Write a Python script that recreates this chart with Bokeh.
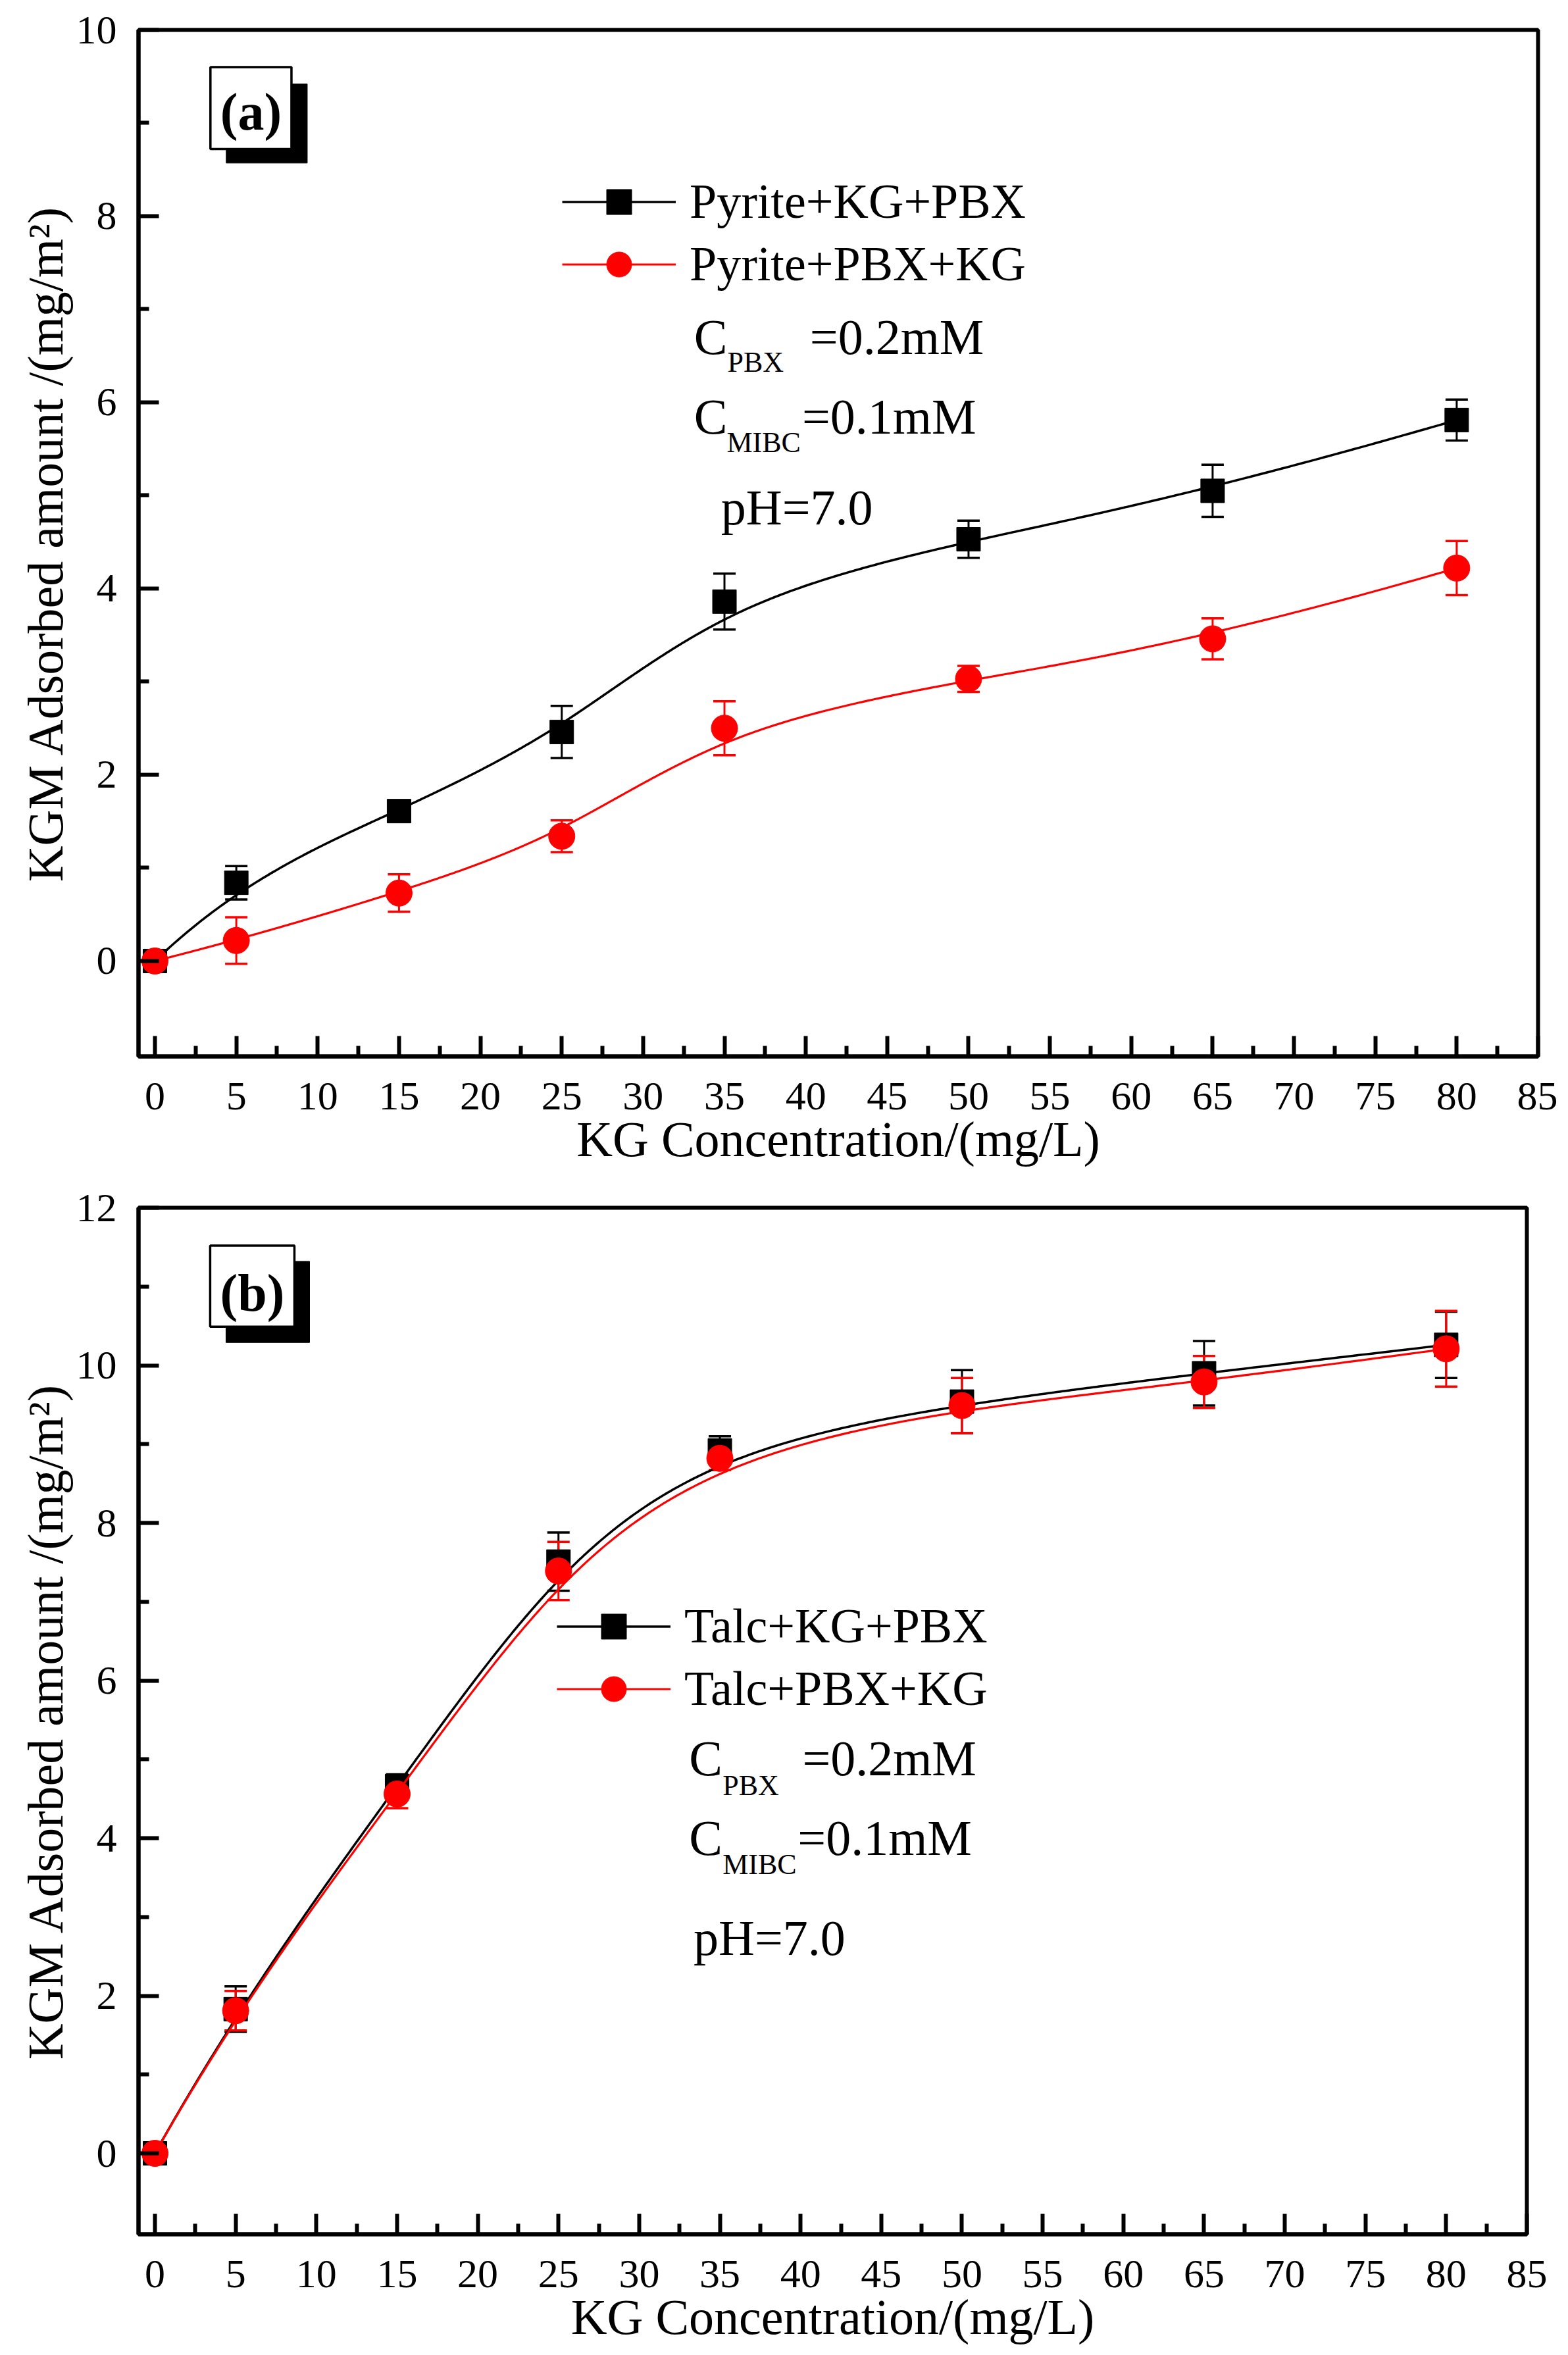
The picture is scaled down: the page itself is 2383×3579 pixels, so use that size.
import numpy as np
from bokeh.plotting import figure
from bokeh.models import (ColumnDataSource, Range1d, FixedTicker, Whisker, TeeHead,
                          Legend, LegendItem, Label)
from bokeh.layouts import column
from bokeh.embed import file_html
from bokeh.resources import INLINE

# ---------------- data ----------------
kg_conc = [0, 5, 15, 25, 35, 50, 65, 80]

pyrite_kg_pbx = [0.00, 0.84, 1.61, 2.46, 3.86, 4.53, 5.05, 5.81]
pyrite_kg_pbx_err = [0.00, 0.18, 0.06, 0.28, 0.30, 0.20, 0.28, 0.22]
pyrite_pbx_kg = [0.00, 0.22, 0.73, 1.34, 2.50, 3.03, 3.46, 4.22]
pyrite_pbx_kg_err = [0.00, 0.25, 0.20, 0.17, 0.29, 0.14, 0.22, 0.29]

talc_kg_pbx = [0.00, 1.83, 4.66, 7.51, 8.92, 9.54, 9.90, 10.26]
talc_kg_pbx_err = [0.00, 0.29, 0.15, 0.37, 0.18, 0.40, 0.41, 0.42]
talc_pbx_kg = [0.00, 1.81, 4.56, 7.39, 8.82, 9.49, 9.79, 10.21]
talc_pbx_kg_err = [0.00, 0.25, 0.18, 0.37, 0.15, 0.35, 0.33, 0.48]

x_ticks = list(range(0, 90, 5))
x_minor = [2.5 + 5 * i for i in range(17)]

FONT = "Liberation Serif"
RED = "#FF0000"
BLACK = "#000000"


def bspline(px, py, num=600, k=3):
    """Clamped uniform cubic B-spline using the data points as control points."""
    P = np.column_stack([px, py]).astype(float)
    n = len(P)
    m = n - k
    knots = np.concatenate([np.zeros(k), np.arange(m + 1), np.full(k, m)]).astype(float)
    out = []
    for t in np.linspace(0, m, num):
        s = min(int(np.floor(t)) + k, n - 1)
        d = [P[j + s - k].copy() for j in range(k + 1)]
        for r in range(1, k + 1):
            for j in range(k, r - 1, -1):
                i = j + s - k
                den = knots[j + 1 + s - r] - knots[i]
                a = (t - knots[i]) / den if den != 0 else 0.0
                d[j] = (1 - a) * d[j - 1] + a * d[j]
        out.append(d[k])
    out = np.array(out)
    return out[:, 0], out[:, 1]


def style_axes(p, y_major, y_minor):
    p.xaxis.ticker = FixedTicker(ticks=x_ticks, minor_ticks=x_minor)
    p.yaxis.ticker = FixedTicker(ticks=y_major, minor_ticks=y_minor)
    for ax in (p.xaxis[0], p.yaxis[0]):
        ax.axis_line_width = 6
        ax.axis_line_color = BLACK
        ax.major_tick_in = 31
        ax.major_tick_out = 0
        ax.minor_tick_in = 16
        ax.minor_tick_out = 0
        ax.major_tick_line_width = 6
        ax.minor_tick_line_width = 6
        ax.major_tick_line_color = BLACK
        ax.minor_tick_line_color = BLACK
        ax.major_label_text_font = FONT
        ax.major_label_text_font_size = "62px"
        ax.major_label_text_color = BLACK
        ax.axis_label_text_font = FONT
        ax.axis_label_text_font_size = "76px"
        ax.axis_label_text_font_style = "normal"
        ax.axis_label_text_color = BLACK
    p.xaxis.major_label_standoff = 40
    p.yaxis.major_label_standoff = 33
    p.xaxis.axis_label_standoff = 0
    p.yaxis.axis_label_standoff = 2
    p.xgrid.visible = False
    p.ygrid.visible = False
    p.outline_line_color = BLACK
    p.outline_line_width = 6
    p.outline_line_alpha = 1.0


def add_series(p, ys, errs, color, marker, msize, lw):
    cx, cy = bspline(kg_conc, ys)
    line = p.line(cx, cy, line_color=color, line_width=lw)
    up = [a + b for a, b in zip(ys, errs)]
    lo = [a - b for a, b in zip(ys, errs)]
    src = ColumnDataSource(dict(x=kg_conc, y=ys, upper=up, lower=lo))
    w = Whisker(source=src, base="x", upper="upper", lower="lower", dimension="height",
                line_color=color, line_width=3,
                upper_head=TeeHead(size=34, line_color=color, line_width=3.5),
                lower_head=TeeHead(size=34, line_color=color, line_width=3.5),
                level="underlay")
    p.add_layout(w)
    sc = p.scatter("x", "y", source=src, marker=marker, size=msize,
                   fill_color=color, line_color=color, line_width=1)
    return line, sc


def panel_label(p, text, box, shadow, ty):
    p.quad(left=[shadow[0]], right=[shadow[1]], top=[shadow[2]], bottom=[shadow[3]],
           fill_color=BLACK, line_color=BLACK, line_width=1)
    p.quad(left=[box[0]], right=[box[1]], top=[box[2]], bottom=[box[3]],
           fill_color="white", line_color=BLACK, line_width=3.5)
    p.add_layout(Label(x=(box[0] + box[1]) / 2, y=ty, text=text, text_font=FONT,
                       text_font_size="80px", text_font_style="bold", text_align="center",
                       text_baseline="middle", text_color=BLACK))


def cond_labels(p, rows):
    for (x, y, t, size) in rows:
        p.add_layout(Label(x=x, y=y, text=t, text_font=FONT, text_font_size=size,
                           text_align="left", text_baseline="alphabetic", text_color=BLACK))


def make_fig(y_lo, y_hi, fw, fh, bl, br, bt, bb):
    p = figure(frame_width=fw, frame_height=fh, x_range=Range1d(-1.01, 85),
               y_range=Range1d(y_lo, y_hi), output_backend="svg", toolbar_location=None,
               min_border_left=bl, min_border_right=br, min_border_top=bt, min_border_bottom=bb,
               background_fill_color="white", border_fill_color="white")
    p.xaxis.axis_label = "KG Concentration/(mg/L)"
    p.yaxis.axis_label = "KGM Adsorbed amount /(mg/m\u00b2)"
    return p


# ---------------- panel (a) ----------------
pa = make_fig(-1.025, 10, 2127, 1560, 202, 38, 45, 190)
style_axes(pa, [0, 2, 4, 6, 8, 10], [1, 3, 5, 7, 9])
la1, sa1 = add_series(pa, pyrite_kg_pbx, pyrite_kg_pbx_err, BLACK, "square", 36, 3.5)
la2, sa2 = add_series(pa, pyrite_pbx_kg, pyrite_pbx_kg_err, RED, "circle", 40, 3.2)
panel_label(pa, "(a)", (3.41, 8.39, 9.60, 8.72), (4.38, 9.36, 9.42, 8.57), 9.12)
leg_a = Legend(items=[LegendItem(label="Pyrite+KG+PBX", renderers=[la1, sa1]),
                      LegendItem(label="Pyrite+PBX+KG", renderers=[la2, sa2])],
               location=(644, 1156), glyph_width=173, glyph_height=95, label_height=95,
               spacing=0, padding=0, margin=0, label_standoff=21,
               label_text_font=FONT, label_text_font_size="74px", label_text_color=BLACK,
               border_line_alpha=0, background_fill_alpha=0)
pa.add_layout(leg_a)
cond_labels(pa, [
    (33.13, 6.70, "C", "76px"), (35.18, 6.43, "PBX", "44px"), (40.25, 6.70, "=0.2mM", "76px"),
    (33.13, 5.85, "C", "76px"), (35.14, 5.57, "MIBC", "44px"), (39.77, 5.85, "=0.1mM", "76px"),
    (34.79, 4.87, "pH=7.0", "76px"),
])

# ---------------- panel (b) ----------------
pb = make_fig(-1.027, 12, 2110, 1560, 210, 47, 40, 170)
pb.x_range = Range1d(-1.02, 85)
style_axes(pb, [0, 2, 4, 6, 8, 10, 12], [1, 3, 5, 7, 9, 11])
lb1, sb1 = add_series(pb, talc_kg_pbx, talc_kg_pbx_err, BLACK, "square", 36, 3.5)
lb2, sb2 = add_series(pb, talc_pbx_kg, talc_pbx_kg_err, RED, "circle", 40, 3.2)
panel_label(pb, "(b)", (3.42, 8.64, 11.52, 10.49), (4.40, 9.58, 11.32, 10.29), 10.92)
leg_b = Legend(items=[LegendItem(label="Talc+KG+PBX", renderers=[lb1, sb1]),
                      LegendItem(label="Talc+PBX+KG", renderers=[lb2, sb2])],
               location=(636, 781), glyph_width=173, glyph_height=95, label_height=95,
               spacing=0, padding=0, margin=0, label_standoff=21,
               label_text_font=FONT, label_text_font_size="74px", label_text_color=BLACK,
               border_line_alpha=0, background_fill_alpha=0)
pb.add_layout(leg_b)
cond_labels(pb, [
    (33.09, 5.015, "C", "76px"), (35.17, 4.67, "PBX", "44px"), (40.11, 5.015, "=0.2mM", "76px"),
    (33.09, 4.005, "C", "76px"), (35.17, 3.67, "MIBC", "44px"), (39.82, 4.005, "=0.1mM", "76px"),
    (33.37, 2.735, "pH=7.0", "76px"),
])

layout = column(pa, pb, spacing=0)
open("out.html", "w").write(file_html(layout, INLINE))
